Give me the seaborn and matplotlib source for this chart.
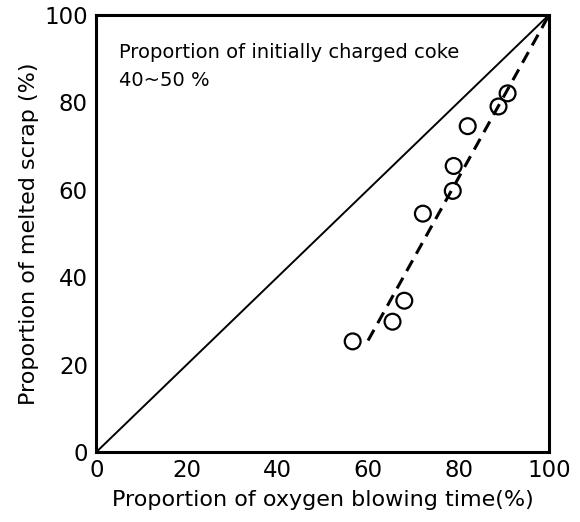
import matplotlib
matplotlib.use("Agg")
import matplotlib.pyplot as plt
import seaborn as sns
import pandas as pd

# Data
oxygen_time = [56.6, 65.4, 68.0, 72.1, 78.7, 78.9, 82.0, 88.8, 90.8]
melted_scrap = [25.3, 29.8, 34.6, 54.5, 59.7, 65.4, 74.5, 79.0, 82.0]
trend_x = [60, 100]
trend_y = [25.5, 100]
parity_x = [0, 100]
parity_y = [0, 100]
ticks = [0, 20, 40, 60, 80, 100]
tick_labels = ["0", "20", "40", "60", "80", "100"]

sns.set_theme(style="white")
plt.rcParams['font.family'] = ['DejaVu Sans']
plt.rcParams['text.color'] = 'black'
plt.rcParams['axes.labelcolor'] = 'black'

fig = plt.figure(figsize=(5.8, 5.22), dpi=100)
ax = fig.add_axes([0.166, 0.134, 0.781, 0.838])

pts = pd.DataFrame({"x": oxygen_time, "y": melted_scrap})
sns.lineplot(x=parity_x, y=parity_y, ax=ax, color="black", linewidth=1.4)
sns.lineplot(x=trend_x, y=trend_y, ax=ax, color="black", linewidth=2.2,
             linestyle=(0, (4, 2.5)))
sns.scatterplot(data=pts, x="x", y="y", ax=ax, marker="o", s=130,
                facecolor="none", edgecolor="black", linewidth=1.6, zorder=5)

ax.set_xlim(0, 100)
ax.set_ylim(0, 100)
ax.set_xticks(ticks)
ax.set_xticklabels(tick_labels)
ax.set_yticks(ticks)
ax.set_yticklabels(tick_labels)
ax.tick_params(direction="in", length=7, width=1.5, labelsize=16.5, color="black",
               labelcolor="black")
ax.tick_params(axis="x", pad=5)
ax.tick_params(axis="y", pad=6)
for s in ax.spines.values():
    s.set_linewidth(2.2)
    s.set_color("black")

ax.set_xlabel("Proportion of oxygen blowing time(%)", fontsize=16, labelpad=6)
ax.set_ylabel("Proportion of melted scrap (%)", fontsize=16, labelpad=4)

ax.text(0.05, 0.913, "Proportion of initially charged coke", transform=ax.transAxes,
        fontsize=14, va="center", ha="left", color="black")
ax.text(0.05, 0.85, "40~50 %", transform=ax.transAxes,
        fontsize=14, va="center", ha="left", color="black")

fig.savefig("out.png", dpi=100)
